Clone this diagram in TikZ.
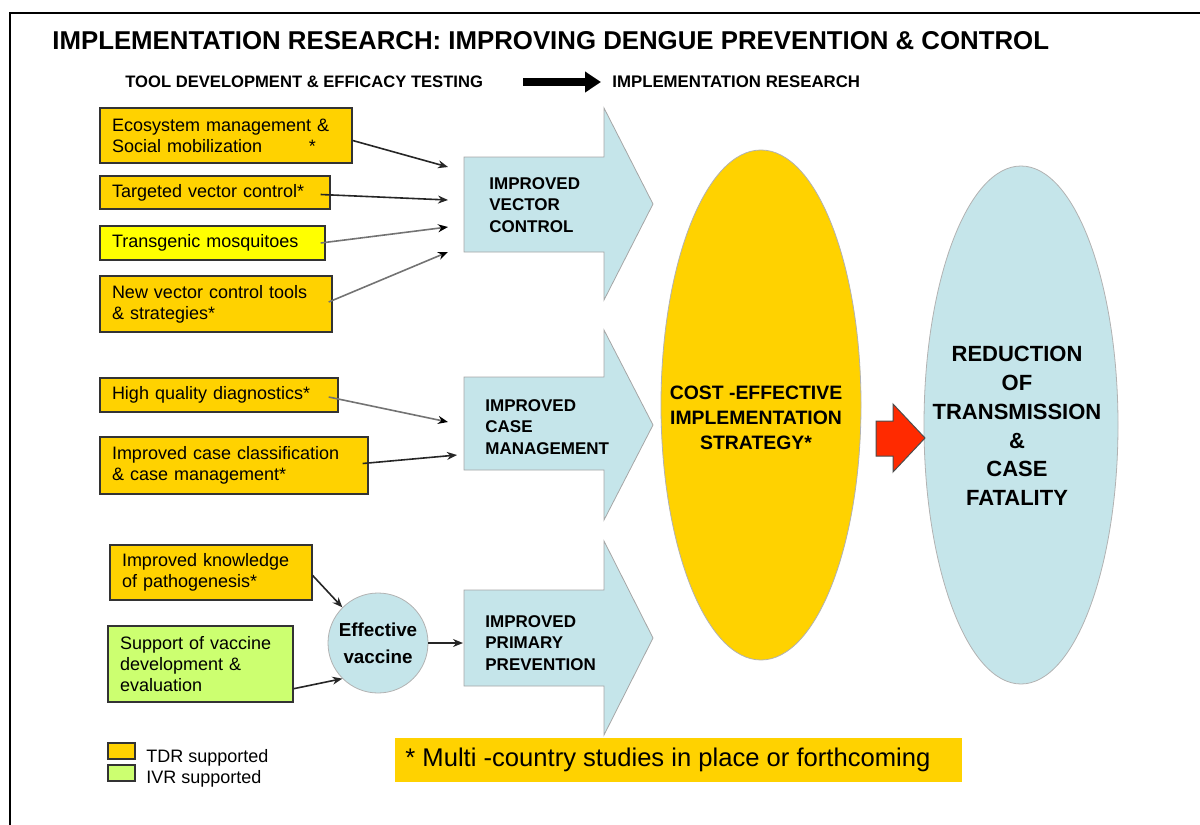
\documentclass[tikz,border=0pt]{standalone}
\usepackage{fontspec}
\setmainfont{Liberation Sans}
\usetikzlibrary{arrows.meta,shapes.geometric}
\definecolor{gold}{HTML}{FFD200}
\definecolor{paleblue}{HTML}{C5E5EA}
\definecolor{brightyellow}{HTML}{FFFF00}
\definecolor{ivrgreen}{HTML}{CCFF70}
\definecolor{redarrow}{HTML}{FF2A00}
\tikzset{
  tdr/.style={draw=black!80, line width=0.7pt, fill=gold, align=left, inner xsep=6pt, inner ysep=0pt,
    font=\fontsize{9}{10.5}\selectfont},
  ivr/.style={tdr, fill=ivrgreen},
  tgm/.style={tdr, fill=brightyellow},
  blockarrow/.style={draw=gray!70, line width=0.4pt, fill=paleblue},
  arrowlabel/.style={anchor=west, align=left, inner sep=0pt, font=\fontsize{8.5}{10.75}\selectfont\bfseries},
  bigellipse/.style={ellipse, draw=gray!60, line width=0.4pt, inner sep=0pt},
  conn/.style={draw=black!85, line width=0.8pt, -{Stealth[length=5pt,width=4pt]}},
  connlight/.style={draw=black!55, line width=0.8pt, -{Stealth[length=5pt,width=4pt,color=black]}},
  legendbox/.style={draw=black!80, line width=0.7pt, minimum width=13.5pt, minimum height=8pt, inner sep=0pt},
  legendtext/.style={anchor=west, inner sep=0pt, font=\fontsize{9}{10}\selectfont},
}
\begin{document}
\begin{tikzpicture}[x=0.5pt,y=-0.5pt]
\useasboundingbox (0,0) rectangle (1200,825);
% frame (top and left edges visible)
\draw[line width=1.4pt] (10,825) -- (10,13) -- (1200,13);

% title and header
\node[anchor=west, inner sep=0pt, font=\fontsize{12.9}{14}\selectfont\bfseries] (title) at (52,41)
  {IMPLEMENTATION RESEARCH: IMPROVING DENGUE PREVENTION \& CONTROL};
\node[anchor=west, inner sep=0pt, font=\fontsize{8.3}{10}\selectfont\bfseries] (tooldev) at (125,82)
  {TOOL DEVELOPMENT \& EFFICACY TESTING};
\node[anchor=west, inner sep=0pt, font=\fontsize{8.4}{10}\selectfont\bfseries] (implres) at (612,82)
  {IMPLEMENTATION RESEARCH};
\coordinate (hdrA) at (523,82);
\coordinate (hdrB) at (601,82);
\draw[line width=4pt, -{Triangle[length=8pt,width=10pt]}] (hdrA) -- (hdrB);

% block arrows
\draw[blockarrow] (464,157) -- (604,157) -- (604,108) -- (653,204) -- (604,300) -- (604,252) -- (464,252) -- cycle;
\draw[blockarrow] (464,377) -- (604,377) -- (604,330) -- (653,425) -- (604,520) -- (604,470) -- (464,470) -- cycle;
\draw[blockarrow] (464,590) -- (604,590) -- (604,541) -- (653,638) -- (604,735) -- (604,686) -- (464,686) -- cycle;
\node[arrowlabel] (vc) at (489,205) {IMPROVED\\VECTOR\\CONTROL};
\node[arrowlabel] (cm) at (485,427) {IMPROVED\\CASE\\MANAGEMENT};
\node[arrowlabel] (pp) at (485,643) {IMPROVED\\PRIMARY\\PREVENTION};

% ellipses
\node[bigellipse, fill=gold, minimum width=100pt, minimum height=255pt] (strategy) at (761,405) {};
\node[align=center, inner sep=0pt, font=\fontsize{9.7}{12.5}\selectfont\bfseries] (strategytxt) at (756,418)
  {COST -EFFECTIVE\\IMPLEMENTATION\\STRATEGY*};
\node[bigellipse, fill=paleblue, minimum width=97pt, minimum height=259pt] (reduction) at (1021,425) {};
\node[align=center, inner sep=0pt, font=\fontsize{11}{14.4}\selectfont\bfseries] (reductiontxt) at (1017,426)
  {REDUCTION\\OF\\TRANSMISSION\\\&\\CASE\\FATALITY};

% red arrow
\draw[draw=black!70, line width=0.5pt, fill=redarrow] (876,421) -- (893,421) -- (893,404) -- (925,438) -- (893,472) -- (893,456) -- (876,456) -- cycle;

% left boxes
\node[tdr, text width=114pt, minimum height=27.5pt] (eco) at (226,135.5)
  {Ecosystem management \&\\Social mobilization\hspace{2.6em}*};
\node[tdr, text width=103pt, minimum height=16.5pt] (tvc) at (215,192.5) {Targeted vector control*};
\node[tgm, text width=100.5pt, minimum height=17pt] (tm) at (212.5,243) {Transgenic mosquitoes};
\node[tdr, text width=104pt, minimum height=28pt] (nvct) at (216,304) {New vector control tools\\\& strategies*};
\node[tdr, text width=107pt, minimum height=17pt] (hqd) at (219,395) {High quality diagnostics*};
\node[tdr, text width=122pt, minimum height=28.5pt] (icc) at (234,465.5) {Improved case classification\\\& case management*};
\node[tdr, text width=89pt, minimum height=27.5pt] (ikp) at (211,572.5) {Improved knowledge\\of pathogenesis*};
\node[ivr, text width=80.5pt, minimum height=38pt] (svd) at (200.5,664) {Support of vaccine\\development \&\\evaluation};

% effective vaccine
\node[circle, draw=gray!60, line width=0.4pt, fill=paleblue, minimum size=50pt, inner sep=0pt, align=center,
  font=\fontsize{9.4}{13.5}\selectfont\bfseries] (vac) at (378,643) {Effective\\vaccine};

% connector ends
\coordinate (t1) at (448,167);
\coordinate (t2) at (448,200);
\coordinate (t3) at (448,227);
\coordinate (t4) at (448,252);
\coordinate (t5) at (448,422);
\coordinate (t6) at (457,455);
\coordinate (t9) at (463,643);

\draw[conn] ([yshift=-2.5pt]eco.east) -- (t1);
\draw[conn] ([xshift=-5pt,yshift=-1pt]tvc.east) -- (t2);
\draw[connlight] ([xshift=-2.5pt]tm.east) -- (t3);
\draw[connlight] ([xshift=-2pt,yshift=1pt]nvct.east) -- (t4);
\draw[connlight] ([xshift=-5pt,yshift=-1pt]hqd.east) -- (t5);
\draw[conn] ([xshift=-3pt,yshift=1pt]icc.east) -- (t6);
\draw[conn] ([yshift=-1.5pt]ikp.east) -- (vac.north west);
\draw[conn] ([yshift=7pt]svd.south east) -- (vac.south west);
\draw[conn] (vac.east) -- (t9);

% legend
\node[legendbox, fill=gold] (lg1) at (121.5,751) {};
\node[legendbox, fill=ivrgreen] (lg2) at (121.5,773) {};
\node[legendtext] (lt1) at (146,758) {TDR supported};
\node[legendtext] (lt2) at (146,779) {IVR supported};

% footnote
\node[fill=gold, minimum width=283.5pt, minimum height=22pt, inner sep=0pt] (footbox) at (678.5,760) {};
\node[anchor=west, inner sep=0pt, font=\fontsize{12.8}{14}\selectfont] (foot) at (405,760)
  {* Multi -country studies in place or forthcoming};
\end{tikzpicture}
\end{document}
